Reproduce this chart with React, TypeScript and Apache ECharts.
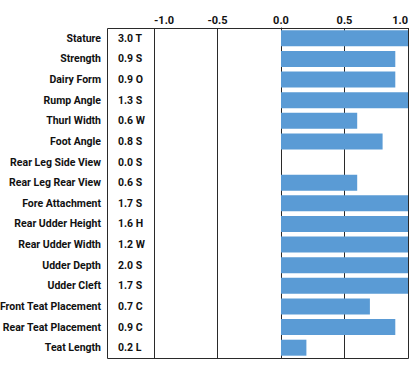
import React, { useEffect, useRef } from "react";
import * as echarts from "echarts";

const traits = [
  "Stature",
  "Strength",
  "Dairy Form",
  "Rump Angle",
  "Thurl Width",
  "Foot Angle",
  "Rear Leg Side View",
  "Rear Leg Rear View",
  "Fore Attachment",
  "Rear Udder Height",
  "Rear Udder Width",
  "Udder Depth",
  "Udder Cleft",
  "Front Teat Placement",
  "Rear Teat Placement",
  "Teat Length",
];
const values = [3.0, 0.9, 0.9, 1.3, 0.6, 0.8, 0.0, 0.6, 1.7, 1.6, 1.2, 2.0, 1.7, 0.7, 0.9, 0.2];
const codes = ["T", "S", "O", "S", "W", "S", "S", "S", "S", "H", "W", "S", "S", "C", "C", "L"];
const axisMin = -1;
const axisMax = 1;
const axisStep = 0.5;

const valueLabels = values.map((v, i) => `${v.toFixed(1)} ${codes[i]}`);

const FONT = "Roboto, 'Noto Sans', sans-serif";

export default function App() {
  const ref = useRef<HTMLDivElement>(null);
  useEffect(() => {
    if (!ref.current) return;
    const chart = echarts.init(ref.current, undefined, { renderer: "svg" });
    const top = 28;
    const bottom = 9;
    const plotLeft = 154;
    const right = 5;
    const frameLeft = 107;
    const W = 413;
    const H = 367;
    const labelStyle = {
      fontFamily: FONT,
      fontWeight: "bold",
      fontSize: 10.5,
      color: "#111",
    };
    chart.setOption({
      animation: false,
      backgroundColor: "#ffffff",
      grid: { left: plotLeft, right, top, bottom, containLabel: false, outerBoundsMode: "none" },
      xAxis: {
        type: "value",
        position: "top",
        min: axisMin,
        max: axisMax,
        interval: axisStep,
        axisLine: { show: false },
        axisTick: { show: false },
        splitLine: { show: true, lineStyle: { color: "#2a2a2a", width: 1 } },
        axisLabel: {
          ...labelStyle,
          formatter: (v: number) => v.toFixed(1),
          fontSize: 11,
          margin: 2,
          alignMinLabel: "left",
          alignMaxLabel: "right",
        },
      },
      yAxis: [
        {
          type: "category",
          inverse: true,
          data: valueLabels,
          axisLine: { show: true, lineStyle: { color: "#2a2a2a" } },
          axisTick: { show: false },
          axisLabel: { ...labelStyle, margin: 36, align: "left", padding: [5, 0, 0, 0] },
        },
        {
          type: "category",
          inverse: true,
          data: traits,
          position: "left",
          offset: plotLeft - frameLeft,
          axisLine: { show: false },
          axisTick: { show: false },
          axisLabel: { ...labelStyle, margin: 6, padding: [5, 0, 0, 0] },
        },
      ],
      series: [
        {
          type: "bar",
          yAxisIndex: 0,
          data: values,
          barWidth: 16,
          clip: true,
          itemStyle: { color: "#5a9bd5" },
        },
      ],
      graphic: [
        {
          type: "rect",
          z: 100,
          shape: { x: frameLeft + 0.5, y: top + 0.5, width: W - right - frameLeft, height: H - bottom - top },
          style: { fill: "none", stroke: "#2a2a2a", lineWidth: 1 },
        },
      ],
    });
    return () => chart.dispose();
  }, []);
  return <div ref={ref} style={{ position: "fixed", left: 0, top: 0, width: 413, height: 367 }} />;
}
